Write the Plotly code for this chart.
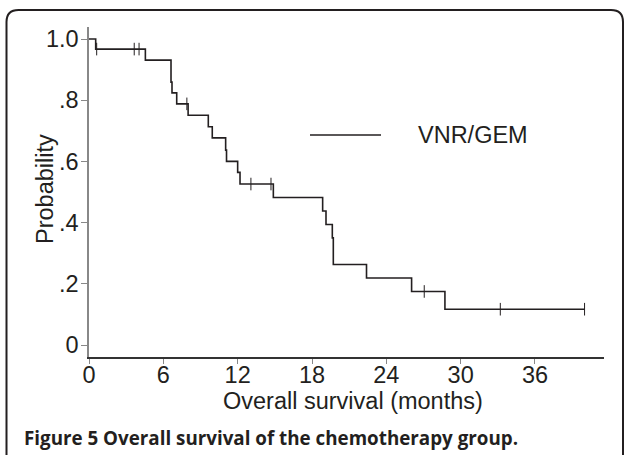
import numpy as np
import plotly.graph_objects as go

# Kaplan-Meier step data
step_times = [0, 0.54, 4.55, 6.62, 6.70, 7.08, 8.0, 9.63, 9.95, 11.03, 11.10,
              12.0, 12.19, 14.88, 18.86, 19.13, 19.64, 19.72, 22.4, 26.04, 28.73]
survival = [1.0, 0.967, 0.931, 0.859, 0.824, 0.788, 0.751, 0.713, 0.677, 0.637, 0.600,
            0.564, 0.526, 0.482, 0.438, 0.394, 0.350, 0.263, 0.219, 0.175, 0.117]
end_time = 40.0
censor_times = [0.62, 3.65, 4.04, 7.9, 13.07, 14.69, 27.06, 33.2, 40.0]
series_name = "VNR/GEM"
x_ticks = [0, 6, 12, 18, 24, 30, 36]
y_ticks = [0, 0.2, 0.4, 0.6, 0.8, 1.0]
y_tick_labels = ["0", ".2", ".4", ".6", ".8", "1.0"]

W, H = 624, 455
ML, MR, MT, MB = 89, 20, 27, 98
PW, PH = W - ML - MR, H - MT - MB

def px(x):
    return (x - ML) / PW

def py(y):
    return 1 - (y - MT) / PH

line_x = step_times + [end_time]
line_y = survival + [survival[-1]]

idx = np.searchsorted(np.array(step_times), np.array(censor_times), side="right") - 1
censor_y = [survival[i] for i in idx]

dark = "#231f20"
fig = go.Figure()
fig.add_trace(go.Scatter(x=line_x, y=line_y, mode="lines", line=dict(shape="hv", color=dark, width=1.6),
                         name=series_name, showlegend=False, hoverinfo="skip"))
fig.add_trace(go.Scatter(x=censor_times, y=censor_y, mode="markers",
                         marker=dict(symbol="line-ns-open", size=9, color=dark, line=dict(color=dark, width=1)),
                         showlegend=False, hoverinfo="skip"))

font = "Liberation Sans, Arial, sans-serif"
FS = 23.5
fig.update_layout(
    width=W, height=H,
    margin=dict(l=ML, r=MR, t=MT, b=MB),
    paper_bgcolor="white", plot_bgcolor="white",
    showlegend=False,
    font=dict(family=font, color=dark, size=FS),
    xaxis=dict(range=[0, 41.57], tickvals=x_ticks, ticks="outside", ticklen=5, tickcolor="#888",
               ticklabelstandoff=-9,
               showline=True, linecolor="#333", linewidth=1.5, showgrid=False, zeroline=False,
               tickfont=dict(size=FS, family=font, color=dark)),
    yaxis=dict(range=[-0.0392, 1.0392], tickvals=y_ticks, ticktext=y_tick_labels, ticks="outside",
               ticklen=6, tickcolor="#888", showline=True, linecolor="#888", linewidth=1.5,
               ticklabelstandoff=-2,
               showgrid=False, zeroline=False, tickfont=dict(size=FS, family=font, color=dark)),
)

# rounded frame
l, t, r, b, rad = 6.5, 10, 623, 480, 12
path = (f"M {px(l)},{py(b)} L {px(l)},{py(t+rad)} Q {px(l)},{py(t)} {px(l+rad)},{py(t)} "
        f"L {px(r-rad)},{py(t)} Q {px(r)},{py(t)} {px(r)},{py(t+rad)} L {px(r)},{py(b)}")
fig.add_shape(type="path", path=path, xref="paper", yref="paper", line=dict(color=dark, width=2))

# legend
fig.add_shape(type="line", xref="paper", yref="paper", x0=px(310), x1=px(381), y0=py(135), y1=py(135),
              line=dict(color=dark, width=1.4))
fig.add_annotation(text=series_name, xref="paper", yref="paper", x=px(416), y=py(135),
                   xanchor="left", yanchor="middle", showarrow=False, font=dict(size=FS, family=font, color=dark))

# axis titles
fig.add_annotation(text="Overall survival (months)", xref="paper", yref="paper", x=px(353), y=py(401),
                   xanchor="center", yanchor="middle", showarrow=False, font=dict(size=FS, family=font, color=dark))
fig.add_annotation(text="Probability", xref="paper", yref="paper", x=px(45), y=py(189), textangle=-90,
                   xanchor="center", yanchor="middle", showarrow=False, font=dict(size=FS, family=font, color=dark))

# caption
fig.add_annotation(text="<b>Figure 5 Overall survival of the chemotherapy group.</b>", xref="paper", yref="paper",
                   x=px(22), y=py(438), xanchor="left", yanchor="middle", showarrow=False,
                   font=dict(size=18.8, family="Open Sans, sans-serif", color=dark))

fig.write_html("out.html", config={"displayModeBar": False},
               post_script="document.body.style.margin='0';document.body.style.overflow='hidden';")
